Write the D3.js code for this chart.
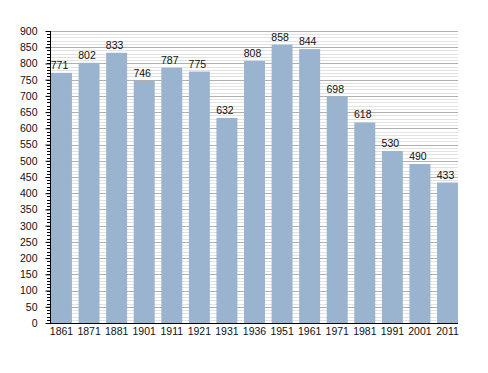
<!DOCTYPE html>
<html>
<head>
<meta charset="utf-8">
<script src="https://cdnjs.cloudflare.com/ajax/libs/d3/7.8.5/d3.min.js"></script>
<style>
  body { margin: 0; background: #fff; }
  text { font-family: "Liberation Sans", Arial, sans-serif; }
</style>
</head>
<body>
<div id="container"></div>
<script>
var width = 488,
    height = 373;

// data
var years = ["1861", "1871", "1881", "1901", "1911", "1921", "1931", "1936",
             "1951", "1961", "1971", "1981", "1991", "2001", "2011"];
var population = [771, 802, 833, 746, 787, 775, 632, 808, 858, 844, 698, 618, 530, 490, 433];
var yTicks = d3.range(0, 901, 50);

// plot edges (window.top is reserved, so use other names)
var plotLeft = 50, plotRight = 458, plotTop = 31, plotBottom = 323;
var fontSize = 10.5;

var svg = d3.select("#container").append("svg")
  .attr("width", width)
  .attr("height", height);

var x = d3.scaleBand()
  .domain(years)
  .range([plotLeft + 1, plotRight])
  .paddingInner(0.24)
  .paddingOuter(0);

var y = d3.scaleLinear()
  .domain([0, 900])
  .range([plotBottom, plotTop]);

// minor grid every 10
svg.append("g")
  .selectAll("line")
  .data(d3.range(10, 900, 10).filter(function(d) { return d % 50 != 0; }))
  .enter().append("line")
  .attr("x1", plotLeft).attr("x2", plotRight)
  .attr("y1", function(d) { return Math.round(y(d)) + 0.5; })
  .attr("y2", function(d) { return Math.round(y(d)) + 0.5; })
  .attr("stroke", "#e2e2e2")
  .attr("stroke-width", 1);

// major grid every 50
svg.append("g")
  .selectAll("line")
  .data(yTicks.filter(function(d) { return d > 0; }))
  .enter().append("line")
  .attr("x1", plotLeft).attr("x2", plotRight)
  .attr("y1", function(d) { return Math.round(y(d)) + 0.5; })
  .attr("y2", function(d) { return Math.round(y(d)) + 0.5; })
  .attr("stroke", "#b0b0b0")
  .attr("stroke-width", 1);

// bars
svg.append("g")
  .selectAll("rect")
  .data(population)
  .enter().append("rect")
  .attr("x", function(d, i) { return x(years[i]); })
  .attr("y", function(d) { return y(d); })
  .attr("width", x.bandwidth())
  .attr("height", function(d) { return y(0) - y(d); })
  .attr("fill", "#9ab3cf");

// value labels
svg.append("g")
  .selectAll("text")
  .data(population)
  .enter().append("text")
  .attr("x", function(d, i) { return x(years[i]) + x.bandwidth() / 2 - 2; })
  .attr("y", function(d) { return y(d) - 4; })
  .attr("text-anchor", "middle")
  .attr("font-size", fontSize)
  .attr("fill", "#111")
  .text(function(d) { return d; });

// y axis: minor ticks
svg.append("g")
  .selectAll("line")
  .data(d3.range(0, 901, 10))
  .enter().append("line")
  .attr("x1", plotLeft - 3).attr("x2", plotLeft)
  .attr("y1", function(d) { return Math.round(y(d)) + 0.5; })
  .attr("y2", function(d) { return Math.round(y(d)) + 0.5; })
  .attr("stroke", "#000");

// y axis major ticks + labels
var yAxis = d3.axisLeft(y)
  .tickValues(yTicks)
  .tickSize(5)
  .tickPadding(8)
  .tickFormat(d3.format("d"));

var gy = svg.append("g")
  .attr("transform", "translate(" + (plotLeft + 0.5) + ",0)")
  .call(yAxis);
gy.select(".domain").remove();
gy.selectAll("text").attr("font-size", fontSize).attr("fill", "#111").attr("font-family", "Liberation Sans, Arial, sans-serif");

svg.append("line")
  .attr("x1", plotLeft + 0.5).attr("x2", plotLeft + 0.5)
  .attr("y1", plotTop).attr("y2", plotBottom)
  .attr("stroke", "#000");

// x axis
var xAxis = d3.axisBottom(x).tickSize(0).tickPadding(4);
var gx = svg.append("g")
  .attr("transform", "translate(0," + (plotBottom + 0.5) + ")")
  .call(xAxis);
gx.select(".domain").attr("d", "M" + plotLeft + ",0H" + plotRight).attr("stroke", "#000");
gx.selectAll("text").attr("font-size", fontSize).attr("fill", "#111").attr("font-family", "Liberation Sans, Arial, sans-serif");
</script>
</body>
</html>
